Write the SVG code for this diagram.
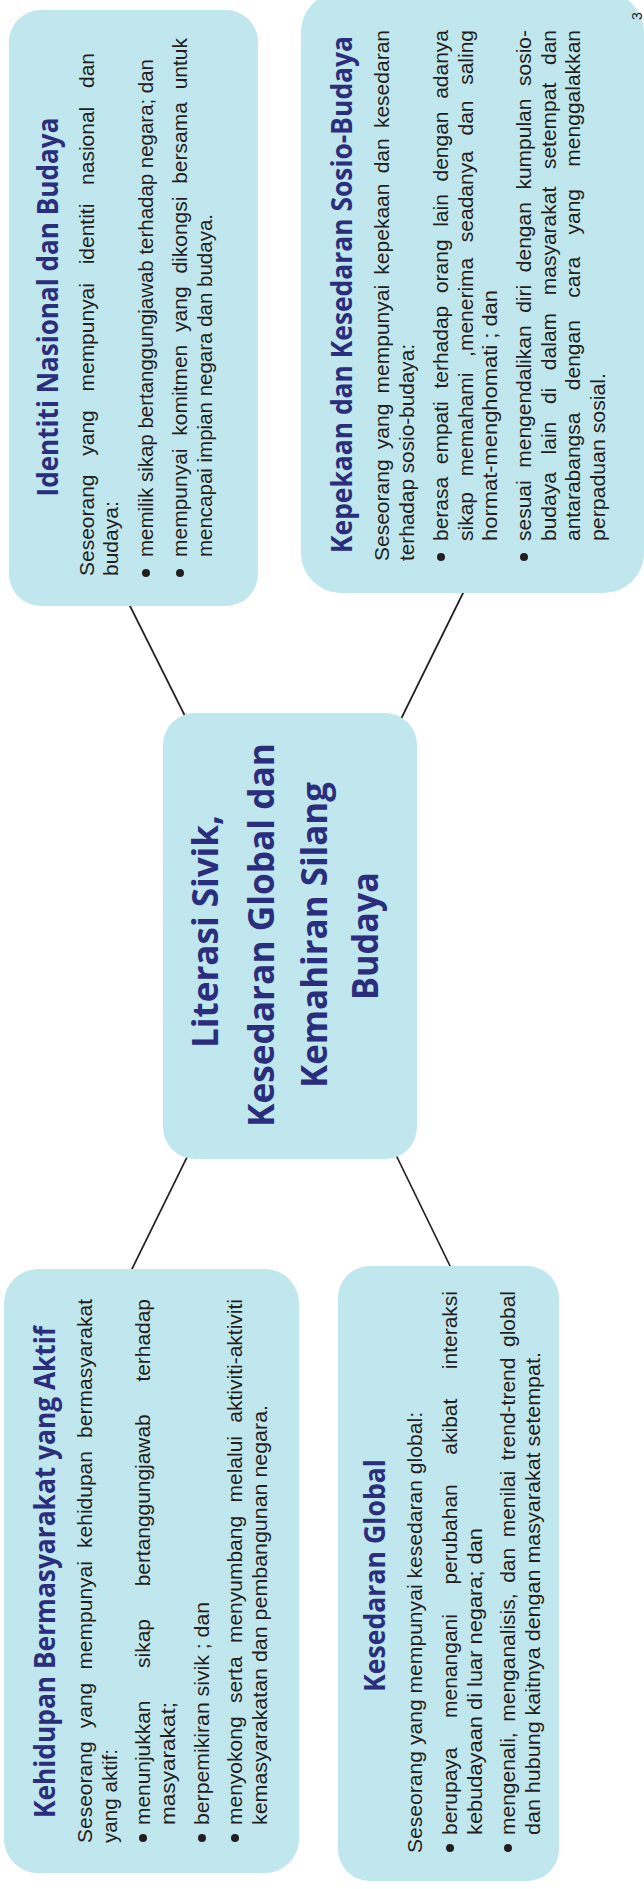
<svg xmlns="http://www.w3.org/2000/svg" width="644" height="1889" viewBox="0 0 644 1889">
<style>
.box{fill:#c0e6ee}
.t{font-family:"Open Sans","Liberation Sans",sans-serif;font-weight:700;fill:#2b2e7c}
.tt{font-size:28px;text-anchor:middle}
.tc{font-size:35px;text-anchor:middle}
.b{font-family:"Liberation Sans",Arial,sans-serif;font-size:21px;fill:#231f20}
.d{fill:#231f20}
.conn line{stroke:#231f20;stroke-width:1.7}
</style>
<rect width="644" height="1889" fill="#ffffff"/>
<g id="connectors" class="conn">
<line x1="128" y1="602" x2="186" y2="718"/>
<line x1="465" y1="589" x2="400" y2="721"/>
<line x1="188" y1="1155" x2="130" y2="1273"/>
<line x1="396" y1="1155" x2="452" y2="1270"/>
</g>
<g id="identiti">
<rect class="box" x="9" y="10" width="249" height="596" rx="32"/>
<text class="t tt" transform="translate(58,307) rotate(-90)" textLength="379" lengthAdjust="spacingAndGlyphs">Identiti Nasional dan Budaya</text>
<text class="b" transform="translate(94,576) rotate(-90)" textLength="523" lengthAdjust="spacingAndGlyphs" word-spacing="12.9">Seseorang yang mempunyai identiti nasional dan</text>
<text class="b" transform="translate(118,576) rotate(-90)">budaya:</text>
<circle class="d" cx="146" cy="573" r="4"/>
<text class="b" transform="translate(153,557) rotate(-90)" textLength="498" lengthAdjust="spacingAndGlyphs">memilik sikap bertanggungjawab terhadap negara; dan</text>
<circle class="d" cx="180" cy="573" r="4"/>
<text class="b" transform="translate(187,557) rotate(-90)" textLength="519" lengthAdjust="spacingAndGlyphs" word-spacing="7">mempunyai komitmen yang dikongsi bersama untuk</text>
<text class="b" transform="translate(212,557) rotate(-90)" textLength="343" lengthAdjust="spacingAndGlyphs">mencapai impian negara dan budaya.</text>
</g>
<g id="kepekaan">
<rect class="box" x="301" y="-8" width="343" height="601" rx="40"/>
<text class="t tt" transform="translate(352,294.5) rotate(-90)" textLength="517" lengthAdjust="spacingAndGlyphs">Kepekaan dan Kesedaran Sosio-Budaya</text>
<text class="b" transform="translate(389,561) rotate(-90)" textLength="531" lengthAdjust="spacingAndGlyphs" word-spacing="4.4">Seseorang yang mempunyai kepekaan dan kesedaran</text>
<text class="b" transform="translate(413.5,561) rotate(-90)" textLength="217" lengthAdjust="spacingAndGlyphs">terhadap sosio-budaya:</text>
<circle class="d" cx="441" cy="557" r="4"/>
<text class="b" transform="translate(448,541) rotate(-90)" textLength="511" lengthAdjust="spacingAndGlyphs" word-spacing="6.8">berasa empati terhadap orang lain dengan adanya</text>
<text class="b" transform="translate(472.5,541) rotate(-90)" textLength="511" lengthAdjust="spacingAndGlyphs" word-spacing="9.8">sikap memahami ,menerima seadanya dan saling</text>
<text class="b" transform="translate(497,541) rotate(-90)" textLength="251" lengthAdjust="spacingAndGlyphs">hormat-menghomati ; dan</text>
<circle class="d" cx="524" cy="557" r="4"/>
<text class="b" transform="translate(531,541) rotate(-90)" textLength="511" lengthAdjust="spacingAndGlyphs" word-spacing="6.8">sesuai mengendalikan diri dengan kumpulan sosio-</text>
<text class="b" transform="translate(555.5,541) rotate(-90)" textLength="511" lengthAdjust="spacingAndGlyphs" word-spacing="11.8">budaya lain di dalam masyarakat setempat dan</text>
<text class="b" transform="translate(580,541) rotate(-90)" textLength="511" lengthAdjust="spacingAndGlyphs" word-spacing="16.5">antarabangsa dengan cara yang menggalakkan</text>
<text class="b" transform="translate(604.5,541) rotate(-90)" textLength="168" lengthAdjust="spacingAndGlyphs">perpaduan sosial.</text>
</g>
<g id="pusat">
<rect class="box" x="163" y="713" width="254" height="446" rx="32"/>
<text class="t tc" transform="translate(218,931.5) rotate(-90)" textLength="233" lengthAdjust="spacingAndGlyphs">Literasi Sivik,</text>
<text class="t tc" transform="translate(274,935) rotate(-90)" textLength="384" lengthAdjust="spacingAndGlyphs">Kesedaran Global dan</text>
<text class="t tc" transform="translate(327,935) rotate(-90)" textLength="306" lengthAdjust="spacingAndGlyphs">Kemahiran Silang</text>
<text class="t tc" transform="translate(378,936) rotate(-90)" textLength="128" lengthAdjust="spacingAndGlyphs">Budaya</text>
</g>
<g id="kehidupan">
<rect class="box" x="4" y="1269" width="295" height="604" rx="34"/>
<text class="t tt" transform="translate(55,1572) rotate(-90)" textLength="492" lengthAdjust="spacingAndGlyphs">Kehidupan Bermasyarakat yang Aktif</text>
<text class="b" transform="translate(92,1843) rotate(-90)" textLength="544" lengthAdjust="spacingAndGlyphs" word-spacing="7.3">Seseorang yang mempunyai kehidupan bermasyarakat</text>
<text class="b" transform="translate(116.5,1843) rotate(-90)" textLength="94" lengthAdjust="spacingAndGlyphs">yang aktif:</text>
<circle class="d" cx="143" cy="1838" r="4"/>
<text class="b" transform="translate(150,1825) rotate(-90)" textLength="526" lengthAdjust="spacingAndGlyphs" word-spacing="27">menunjukkan sikap bertanggungjawab terhadap</text>
<text class="b" transform="translate(174.5,1825) rotate(-90)" textLength="123" lengthAdjust="spacingAndGlyphs">masyarakat;</text>
<circle class="d" cx="202" cy="1838" r="4"/>
<text class="b" transform="translate(209,1825) rotate(-90)" textLength="223" lengthAdjust="spacingAndGlyphs">berpemikiran sivik ; dan</text>
<circle class="d" cx="235" cy="1838" r="4"/>
<text class="b" transform="translate(242,1825) rotate(-90)" textLength="526" lengthAdjust="spacingAndGlyphs" word-spacing="7.5">menyokong serta menyumbang melalui aktiviti-aktiviti</text>
<text class="b" transform="translate(266.5,1825) rotate(-90)" textLength="420" lengthAdjust="spacingAndGlyphs">kemasyarakatan dan pembangunan negara.</text>
</g>
<g id="kesedaran-global">
<rect class="box" x="338" y="1266" width="221" height="615" rx="32"/>
<text class="t tt" transform="translate(385,1575.5) rotate(-90)" textLength="233" lengthAdjust="spacingAndGlyphs">Kesedaran Global</text>
<text class="b" transform="translate(422,1853) rotate(-90)" textLength="441" lengthAdjust="spacingAndGlyphs">Seseorang yang mempunyai kesedaran global:</text>
<circle class="d" cx="450" cy="1848" r="4"/>
<text class="b" transform="translate(457,1835) rotate(-90)" textLength="544" lengthAdjust="spacingAndGlyphs" word-spacing="23.7">berupaya menangani perubahan akibat interaksi</text>
<text class="b" transform="translate(481.5,1835) rotate(-90)" textLength="307" lengthAdjust="spacingAndGlyphs">kebudayaan di luar negara; dan</text>
<circle class="d" cx="508" cy="1848" r="4"/>
<text class="b" transform="translate(515,1835) rotate(-90)" textLength="544" lengthAdjust="spacingAndGlyphs" word-spacing="4.7">mengenali, menganalisis, dan menilai trend-trend global</text>
<text class="b" transform="translate(539.5,1835) rotate(-90)" textLength="483" lengthAdjust="spacingAndGlyphs">dan hubung kaitnya dengan masyarakat setempat.</text>
</g>
<text class="b" style="font-size:14px" transform="translate(642,20) rotate(-90)">3</text>
</svg>
